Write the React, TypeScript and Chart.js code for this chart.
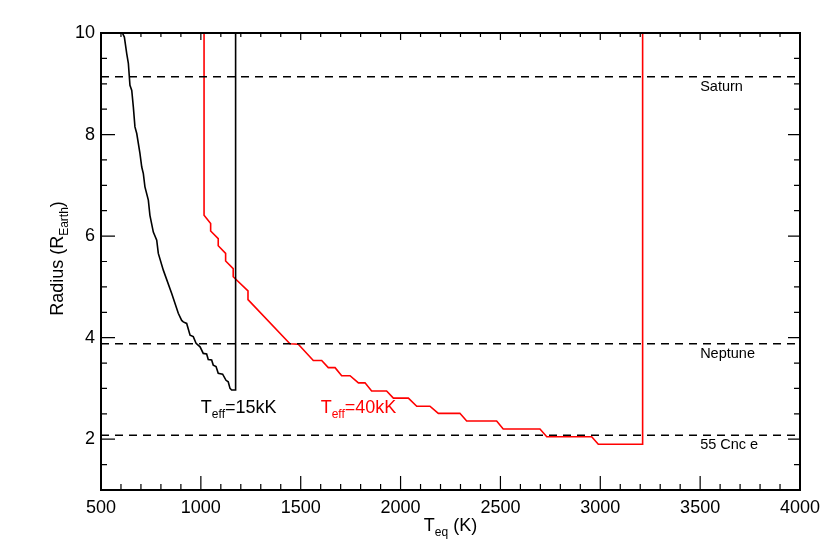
import React, { useEffect, useRef } from 'react';
import { Chart, registerables } from 'chart.js';

Chart.register(...registerables);

// ---- data ----
const teqTicks = [500, 1000, 1500, 2000, 2500, 3000, 3500, 4000];
const radiusTicks = [2, 4, 6, 8, 10];
const teqRange = [500, 4000];
const radiusRange = [1, 10];

// T_eff = 15 kK (black)
const t15T = [607, 617, 629, 637, 645, 654, 662, 670, 679, 695, 704, 712, 720, 737, 745, 762, 779, 787, 812, 854, 887, 904, 912, 929, 946, 962, 976, 996, 1012, 1029, 1037, 1054, 1062, 1076, 1087, 1109, 1126, 1137, 1146, 1154, 1174, 1174];
const t15R = [10, 9.92, 9.59, 9.40, 8.97, 8.87, 8.54, 8.15, 8.02, 7.63, 7.36, 7.23, 6.97, 6.71, 6.41, 6.08, 5.92, 5.66, 5.33, 4.87, 4.48, 4.34, 4.31, 4.28, 4.05, 4.02, 3.89, 3.82, 3.69, 3.68, 3.57, 3.56, 3.46, 3.43, 3.30, 3.28, 3.16, 3.13, 3.00, 2.97, 2.97, 10];

// T_eff = 40 kK (red)
const t40T = [1016, 1016, 1049, 1049, 1087, 1087, 1124, 1124, 1162, 1162, 1236, 1236, 1446, 1488, 1563, 1605, 1638, 1672, 1705, 1747, 1789, 1822, 1855, 1930, 1964, 2039, 2081, 2147, 2189, 2297, 2331, 2481, 2514, 2698, 2732, 2957, 2990, 3212, 3212];
const t40R = [10, 6.41, 6.25, 6.10, 5.95, 5.81, 5.66, 5.51, 5.36, 5.20, 4.92, 4.75, 3.88, 3.87, 3.55, 3.55, 3.41, 3.41, 3.25, 3.25, 3.11, 3.11, 2.95, 2.95, 2.81, 2.81, 2.65, 2.65, 2.51, 2.51, 2.36, 2.36, 2.20, 2.20, 2.05, 2.05, 1.90, 1.90, 10];

// reference planets
const refNames = ['Saturn', 'Neptune', '55 Cnc e'];
const refRadii = [9.14, 3.88, 2.08];
const refLabelTeq = 3500;

// curve labels
const curveLabelTeq = [1000, 1600];
const curveLabelR = [2.51, 2.51];
const curveLabelSub = ['=15kK', '=40kK'];
const curveColors = ['#000000', '#ff0000'];

const FONT = "'Liberation Sans', Arial, Helvetica, sans-serif";

type Part = { text: string; size: number; dy: number };

function drawRich(ctx: CanvasRenderingContext2D, parts: Part[], x: number, y: number, align: 'left' | 'center') {
  let total = 0;
  for (const p of parts) {
    ctx.font = `${p.size}px ${FONT}`;
    total += ctx.measureText(p.text).width;
  }
  let cx = align === 'center' ? x - total / 2 : x;
  ctx.textBaseline = 'alphabetic';
  ctx.textAlign = 'left';
  for (const p of parts) {
    ctx.font = `${p.size}px ${FONT}`;
    ctx.fillText(p.text, cx, y + p.dy);
    cx += ctx.measureText(p.text).width;
  }
}

const framePlugin = {
  id: 'idlFrame',
  afterDraw(chart: any) {
    const { ctx, chartArea } = chart;
    const xs = chart.scales.x;
    const ys = chart.scales.y;
    const { left, right, top, bottom } = chartArea;
    ctx.save();
    ctx.strokeStyle = '#000';
    ctx.fillStyle = '#000';
    // ticks
    ctx.lineWidth = 1.2;
    ctx.beginPath();
    for (let v = teqRange[0]; v <= teqRange[1]; v += 100) {
      const px = xs.getPixelForValue(v);
      const major = v % 500 === 0;
      ctx.moveTo(px, bottom);
      ctx.lineTo(px, bottom - (major ? 14 : 6));
      ctx.moveTo(px, top);
      ctx.lineTo(px, top + (major ? 7 : 4));
    }
    for (let v = radiusRange[0]; v <= radiusRange[1] + 1e-9; v += 0.5) {
      const py = ys.getPixelForValue(v);
      const major = Math.abs(v % 2) < 1e-9;
      ctx.moveTo(left, py);
      ctx.lineTo(left + (major ? 14 : 6), py);
      ctx.moveTo(right, py);
      ctx.lineTo(right - (major ? 12 : 6), py);
    }
    ctx.stroke();
    // border
    ctx.lineWidth = 2;
    ctx.strokeRect(left, top, right - left, bottom - top);

    // reference labels
    ctx.fillStyle = '#000';
    refNames.forEach((name, i) => {
      const px = xs.getPixelForValue(refLabelTeq);
      const py = ys.getPixelForValue(refRadii[i]) + 14;
      drawRich(ctx, [{ text: name, size: 14.5, dy: 0 }], px, py, 'left');
    });

    // curve labels
    curveLabelTeq.forEach((t, i) => {
      ctx.fillStyle = curveColors[i];
      const px = xs.getPixelForValue(t);
      const py = ys.getPixelForValue(curveLabelR[i]);
      drawRich(ctx, [
        { text: 'T', size: 18, dy: 0 },
        { text: 'eff', size: 12, dy: 5 },
        { text: curveLabelSub[i], size: 18, dy: 0 },
      ], px, py, 'left');
    });

    // axis titles
    ctx.fillStyle = '#000';
    drawRich(ctx, [
      { text: 'T', size: 18, dy: 0 },
      { text: 'eq', size: 12, dy: 5 },
      { text: ' (K)', size: 18, dy: 0 },
    ], (left + right) / 2, 531, 'center');

    ctx.save();
    ctx.translate(63, (top + bottom) / 2 - 3);
    ctx.rotate(-Math.PI / 2);
    drawRich(ctx, [
      { text: 'Radius (R', size: 18, dy: 0 },
      { text: 'Earth', size: 12, dy: 5 },
      { text: ')', size: 18, dy: 0 },
    ], 0, 0, 'center');
    ctx.restore();

    ctx.restore();
  },
};

export default function App() {
  const ref = useRef<HTMLCanvasElement | null>(null);
  useEffect(() => {
    document.body.style.margin = '0';
    const canvas = ref.current;
    if (!canvas) return;
    const refSets = refRadii.map((r) => ({
      data: [{ x: teqRange[0], y: r }, { x: teqRange[1], y: r }],
      borderColor: '#000',
      borderWidth: 1.5,
      borderDash: [8, 6],
      pointRadius: 0,
      fill: false,
    }));
    const chart = new Chart(canvas, {
      type: 'line',
      data: {
        datasets: [
          ...refSets,
          {
            data: t15T.map((t, i) => ({ x: t, y: t15R[i] })),
            borderColor: curveColors[0],
            borderWidth: 1.6,
            pointRadius: 0,
            fill: false,
          },
          {
            data: t40T.map((t, i) => ({ x: t, y: t40R[i] })),
            borderColor: curveColors[1],
            borderWidth: 1.6,
            pointRadius: 0,
            fill: false,
          },
        ] as any,
      },
      options: {
        animation: false,
        responsive: false,
        maintainAspectRatio: false,
        layout: { padding: { top: 33, right: 30, left: 0, bottom: 0 } },
        plugins: { legend: { display: false }, tooltip: { enabled: false } },
        scales: {
          x: {
            type: 'linear',
            min: teqRange[0],
            max: teqRange[1],
            grid: { display: false, drawTicks: false },
            border: { display: false },
            ticks: {
              color: '#000',
              font: { family: FONT, size: 18 },
              padding: 7,
              maxRotation: 0,
              autoSkip: false,
              callback: (v: any) => String(v),
            },
            afterBuildTicks: (s: any) => {
              s.ticks = teqTicks.map((v) => ({ value: v }));
            },
            afterFit: (s: any) => {
              s.height = 64;
            },
          },
          y: {
            type: 'linear',
            min: radiusRange[0],
            max: radiusRange[1],
            grid: { display: false, drawTicks: false },
            border: { display: false },
            ticks: {
              color: '#000',
              font: { family: FONT, size: 18 },
              padding: 6,
              autoSkip: false,
              callback: (v: any) => String(v),
            },
            afterBuildTicks: (s: any) => {
              s.ticks = radiusTicks.map((v) => ({ value: v }));
            },
            afterFit: (s: any) => {
              s.width = 101;
            },
          },
        },
      } as any,
      plugins: [framePlugin],
    });
    return () => chart.destroy();
  }, []);
  return (
    <div style={{ width: 830, height: 554, background: '#fff' }}>
      <canvas ref={ref} width={830} height={554} style={{ display: 'block' }} />
    </div>
  );
}
